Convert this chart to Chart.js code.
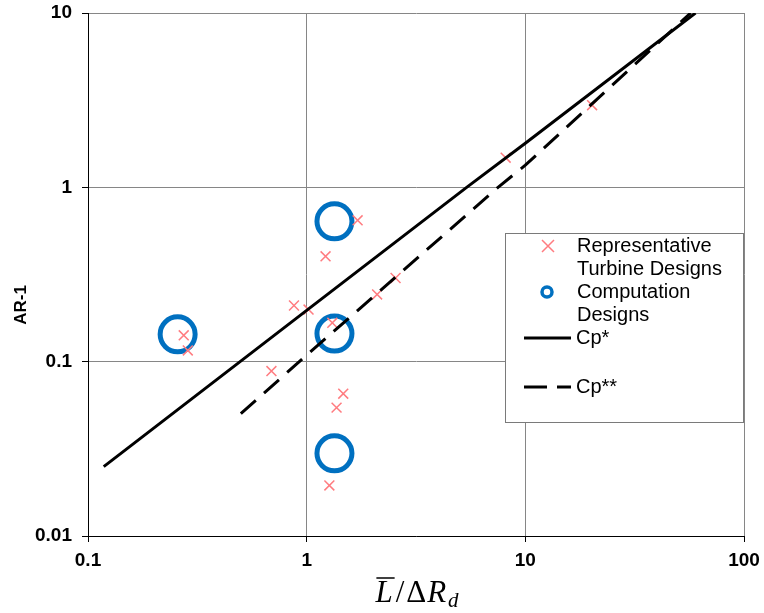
<!DOCTYPE html>
<html>
<head>
<meta charset="utf-8">
<script src="https://cdn.jsdelivr.net/npm/chart.js@4"></script>
<style>
  html, body { margin: 0; padding: 0; background: #fff; }
  #wrap { position: relative; width: 764px; height: 613px; }
</style>
</head>
<body>
<div id="wrap"><canvas id="arChart" width="764" height="613"></canvas></div>
<script>
// representative turbine designs (red crosses)
const repX = [0.274, 0.286, 0.875, 1.02, 1.31, 0.69, 1.47, 1.37, 1.27, 1.71, 1.22, 2.1, 2.55, 8.13, 20.2];
const repY = [0.1416, 0.116, 0.21, 0.199, 0.167, 0.0883, 0.0655, 0.0545, 0.0195, 0.647, 0.402, 0.243, 0.302, 1.48, 2.96];

// computation designs (blue rings)
const compX = [0.257, 1.34, 1.34, 1.34];
const compY = [0.1435, 0.638, 0.145, 0.0298];

// Cp* and Cp** curves
const cpStarX = [0.118, 1, 5.39, 10, 60];
const cpStarY = [0.025, 0.197, 1, 1.79, 10];
const cpStar2X = [0.5, 1, 7.5, 10, 57];
const cpStar2Y = [0.0503, 0.109, 1, 1.34, 10];

const xTicks = [0.1, 1, 10, 100];
const yTicks = [0.01, 0.1, 1, 10];

const toPoints = (xs, ys) => xs.map((x, i) => ({ x: x, y: ys[i] }));

const RED = '#FF7C80';
const BLUE = '#0070C0';
const GRID = '#868686';
const SANS = '"Liberation Sans", Arial, sans-serif';
const SERIF = '"Liberation Serif", "Times New Roman", serif';

// legend box and axis titles are drawn by hand
const extras = {
    id: 'extras',
    afterDraw(chart) {
        const ctx = chart.ctx;
        ctx.save();

        // legend
        ctx.fillStyle = '#fff';
        ctx.fillRect(505, 233, 238, 189);
        ctx.strokeStyle = '#7a7a7a';
        ctx.lineWidth = 1;
        ctx.strokeRect(505.5, 233.5, 238, 189);

        ctx.strokeStyle = RED;
        ctx.lineWidth = 1.5;
        ctx.beginPath();
        ctx.moveTo(542, 240); ctx.lineTo(554, 252);
        ctx.moveTo(554, 240); ctx.lineTo(542, 252);
        ctx.stroke();

        ctx.strokeStyle = BLUE;
        ctx.lineWidth = 3.5;
        ctx.beginPath();
        ctx.arc(547, 292, 5, 0, Math.PI * 2);
        ctx.stroke();

        ctx.strokeStyle = '#000';
        ctx.lineWidth = 3;
        ctx.beginPath();
        ctx.moveTo(524, 338); ctx.lineTo(571, 338);
        ctx.stroke();
        ctx.setLineDash([23, 10]);
        ctx.beginPath();
        ctx.moveTo(524, 387); ctx.lineTo(571, 387);
        ctx.stroke();
        ctx.setLineDash([]);

        ctx.fillStyle = '#000';
        ctx.font = '20px ' + SANS;
        ctx.textAlign = 'left';
        ctx.textBaseline = 'middle';
        ctx.fillText('Representative', 577, 246);
        ctx.fillText('Turbine Designs', 577, 269);
        ctx.fillText('Computation', 577, 292);
        ctx.fillText('Designs', 577, 315);
        ctx.fillText('Cp*', 576, 338);
        ctx.fillText('Cp**', 576, 387);

        // y axis title
        ctx.save();
        ctx.translate(21, 305);
        ctx.rotate(-Math.PI / 2);
        ctx.font = 'bold 17px ' + SANS;
        ctx.textAlign = 'center';
        ctx.fillText('AR-1', 0, 0);
        ctx.restore();

        // x axis title: L-bar / ΔR_d
        const parts = [
            { t: 'L', f: 'italic 31px ' + SERIF, dy: 0, gap: 3 },
            { t: '/', f: '31px ' + SERIF, dy: 0, gap: 2 },
            { t: 'Δ', f: '31px ' + SERIF, dy: 0, gap: 1 },
            { t: 'R', f: 'italic 31px ' + SERIF, dy: 0, gap: 2 },
            { t: 'd', f: 'italic 21px ' + SERIF, dy: 5, gap: 0 }
        ];
        let total = 0;
        parts.forEach(p => { ctx.font = p.f; p.w = ctx.measureText(p.t).width; total += p.w + p.gap; });
        let x = 417 - total / 2;
        const base = 602;
        ctx.textBaseline = 'alphabetic';
        parts.forEach((p, i) => {
            ctx.font = p.f;
            ctx.fillText(p.t, x, base + p.dy);
            if (i === 0) {
                ctx.lineWidth = 1.5;
                ctx.beginPath();
                ctx.moveTo(x + 1, base - 24);
                ctx.lineTo(x + p.w + 2, base - 24);
                ctx.stroke();
            }
            x += p.w + p.gap;
        });

        ctx.restore();
    }
};

new Chart(document.getElementById('arChart'), {
    type: 'scatter',
    data: {
        datasets: [
            {
                label: 'Cp*',
                data: toPoints(cpStarX, cpStarY),
                showLine: true,
                borderColor: '#000',
                borderWidth: 3,
                pointRadius: 0,
                fill: false,
                order: 1
            },
            {
                label: 'Cp**',
                data: toPoints(cpStar2X, cpStar2Y),
                showLine: true,
                borderColor: '#000',
                borderWidth: 3,
                borderDash: [20, 11],
                pointRadius: 0,
                fill: false,
                order: 1
            },
            {
                label: 'Representative Turbine Designs',
                data: toPoints(repX, repY),
                pointStyle: 'crossRot',
                pointRadius: 7,
                borderColor: RED,
                borderWidth: 1.5,
                order: 2
            },
            {
                label: 'Computation Designs',
                data: toPoints(compX, compY),
                pointStyle: 'circle',
                pointRadius: 17.5,
                borderColor: BLUE,
                backgroundColor: 'rgba(0,0,0,0)',
                borderWidth: 5,
                order: 2
            }
        ]
    },
    options: {
        responsive: false,
        animation: false,
        events: [],
        // big rings would otherwise pad the plot box
        layout: { autoPadding: false, padding: { top: 13, right: 20, left: 0, bottom: 0 } },
        plugins: {
            legend: { display: false },
            tooltip: { enabled: false }
        },
        scales: {
            x: {
                type: 'logarithmic',
                min: 0.1,
                max: 100,
                afterBuildTicks: (scale) => { scale.ticks = xTicks.map(v => ({ value: v })); },
                afterFit: (scale) => { scale.height = 77; },
                ticks: {
                    // tall line height pushes the labels down while keeping the padding small
                    font: { family: SANS, size: 19, weight: 'bold', lineHeight: 1.62 },
                    color: '#000',
                    padding: 3,
                    maxRotation: 0,
                    callback: (v) => String(v)
                },
                grid: { color: GRID, tickColor: '#000', tickLength: 6 },
                border: { color: '#000', width: 1 }
            },
            y: {
                type: 'logarithmic',
                min: 0.01,
                max: 10,
                afterBuildTicks: (scale) => { scale.ticks = yTicks.map(v => ({ value: v })); },
                afterFit: (scale) => { scale.width = 88; },
                ticks: {
                    font: { family: SANS, size: 19, weight: 'bold', lineHeight: 0.2 },
                    color: '#000',
                    padding: 10,
                    callback: (v) => String(v)
                },
                grid: { color: GRID, tickColor: '#000', tickLength: 6 },
                border: { color: '#000', width: 1 }
            }
        }
    },
    plugins: [extras]
});
</script>
</body>
</html>
